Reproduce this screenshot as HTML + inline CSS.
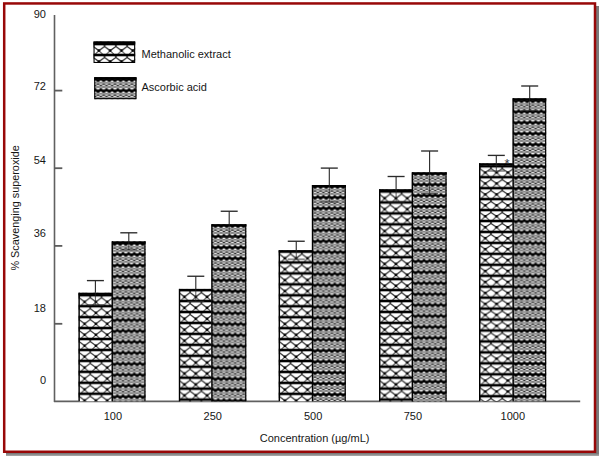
<!DOCTYPE html>
<html><head><meta charset="utf-8"><style>
html,body{margin:0;padding:0;background:#fff;width:600px;height:456px;overflow:hidden}
svg{display:block}
text{font-family:"Liberation Sans", sans-serif;font-size:11px;fill:#161616}
</style></head><body>
<svg width="600" height="456" viewBox="0 0 600 456">
<defs><pattern id="m0" patternUnits="userSpaceOnUse" x="78.950" y="294.200" width="11.3" height="10.95"><rect width="11.3" height="10.95" fill="#fff"/><path d="M-1.000 2.748 L5.650 7.750 L12.300 2.748" stroke="#333" stroke-width="1.3" fill="none"/><path d="M5.650 7.750 L9.050 11.150 M5.650 7.750 L2.250 11.150" stroke="#555" stroke-width="1.15" fill="none"/><rect y="-0.30000000000000004" width="11.3" height="2.6" fill="#000"/><rect y="10.649999999999999" width="11.3" height="2.6" fill="#000"/><path d="M-1.3 2.1999999999999997 L0 3.7 L1.3 2.1999999999999997 Z M10.0 2.1999999999999997 L11.3 3.7 L12.600000000000001 2.1999999999999997 Z" fill="#000"/><circle cx="5.650" cy="7.750" r="1.3" fill="#000"/></pattern><pattern id="a0" patternUnits="userSpaceOnUse" x="111.700" y="242.950" width="5.650" height="10.95"><rect width="5.650" height="10.95" fill="#a0a0a0"/><ellipse cx="0.000" cy="2.45" rx="1.6" ry="0.78" fill="#f2f2f2"/><ellipse cx="5.650" cy="2.45" rx="1.6" ry="0.78" fill="#f2f2f2"/><ellipse cx="2.825" cy="2.45" rx="1.6" ry="0.78" fill="#4a4a4a"/><ellipse cx="0.000" cy="3.75" rx="1.6" ry="0.78" fill="#7a7a7a"/><ellipse cx="5.650" cy="3.75" rx="1.6" ry="0.78" fill="#7a7a7a"/><ellipse cx="2.825" cy="3.75" rx="1.6" ry="0.78" fill="#a4a4a4"/><ellipse cx="0.000" cy="5.3" rx="1.6" ry="0.78" fill="#d8d8d8"/><ellipse cx="5.650" cy="5.3" rx="1.6" ry="0.78" fill="#d8d8d8"/><ellipse cx="2.825" cy="5.3" rx="1.6" ry="0.78" fill="#2e2e2e"/><ellipse cx="0.000" cy="6.5" rx="1.6" ry="0.78" fill="#2e2e2e"/><ellipse cx="5.650" cy="6.5" rx="1.6" ry="0.78" fill="#2e2e2e"/><ellipse cx="2.825" cy="6.5" rx="1.6" ry="0.78" fill="#e4e4e4"/><ellipse cx="0.000" cy="8.0" rx="1.6" ry="0.78" fill="#acacac"/><ellipse cx="5.650" cy="8.0" rx="1.6" ry="0.78" fill="#acacac"/><ellipse cx="2.825" cy="8.0" rx="1.6" ry="0.78" fill="#686868"/><ellipse cx="0.000" cy="9.4" rx="1.6" ry="0.78" fill="#4a4a4a"/><ellipse cx="5.650" cy="9.4" rx="1.6" ry="0.78" fill="#4a4a4a"/><ellipse cx="2.825" cy="9.4" rx="1.6" ry="0.78" fill="#f2f2f2"/><path d="M-0.20 -1.24 L0.30 -1.22 L0.81 -1.08 L1.31 -0.85 L1.82 -0.60 L2.32 -0.42 L2.83 -0.35 L3.33 -0.42 L3.83 -0.60 L4.34 -0.85 L4.84 -1.08 L5.35 -1.22 L5.85 -1.24 L5.85 1.26 L5.35 1.28 L4.84 1.42 L4.34 1.65 L3.83 1.90 L3.33 2.08 L2.83 2.15 L2.32 2.08 L1.82 1.90 L1.31 1.65 L0.81 1.42 L0.30 1.28 L-0.20 1.26 Z" fill="#000"/><path d="M-0.20 9.71 L0.30 9.73 L0.81 9.87 L1.31 10.10 L1.82 10.35 L2.32 10.53 L2.83 10.60 L3.33 10.53 L3.83 10.35 L4.34 10.10 L4.84 9.87 L5.35 9.73 L5.85 9.71 L5.85 12.21 L5.35 12.23 L4.84 12.37 L4.34 12.60 L3.83 12.85 L3.33 13.03 L2.83 13.10 L2.32 13.03 L1.82 12.85 L1.31 12.60 L0.81 12.37 L0.30 12.23 L-0.20 12.21 Z" fill="#000"/></pattern><pattern id="m1" patternUnits="userSpaceOnUse" x="178.800" y="289.100" width="11.3" height="10.95"><rect width="11.3" height="10.95" fill="#fff"/><path d="M-1.000 2.730 L5.650 7.850 L12.300 2.730" stroke="#333" stroke-width="1.3" fill="none"/><path d="M5.650 7.850 L8.950 11.150 M5.650 7.850 L2.350 11.150" stroke="#555" stroke-width="1.15" fill="none"/><rect y="-0.30000000000000004" width="11.3" height="2.6" fill="#000"/><rect y="10.649999999999999" width="11.3" height="2.6" fill="#000"/><path d="M-1.3 2.1999999999999997 L0 3.7 L1.3 2.1999999999999997 Z M10.0 2.1999999999999997 L11.3 3.7 L12.600000000000001 2.1999999999999997 Z" fill="#000"/><circle cx="5.650" cy="7.850" r="1.3" fill="#000"/></pattern><pattern id="a1" patternUnits="userSpaceOnUse" x="212.600" y="225.050" width="5.650" height="10.95"><rect width="5.650" height="10.95" fill="#a0a0a0"/><ellipse cx="0.000" cy="2.45" rx="1.6" ry="0.78" fill="#f2f2f2"/><ellipse cx="5.650" cy="2.45" rx="1.6" ry="0.78" fill="#f2f2f2"/><ellipse cx="2.825" cy="2.45" rx="1.6" ry="0.78" fill="#4a4a4a"/><ellipse cx="0.000" cy="3.75" rx="1.6" ry="0.78" fill="#7a7a7a"/><ellipse cx="5.650" cy="3.75" rx="1.6" ry="0.78" fill="#7a7a7a"/><ellipse cx="2.825" cy="3.75" rx="1.6" ry="0.78" fill="#a4a4a4"/><ellipse cx="0.000" cy="5.3" rx="1.6" ry="0.78" fill="#d8d8d8"/><ellipse cx="5.650" cy="5.3" rx="1.6" ry="0.78" fill="#d8d8d8"/><ellipse cx="2.825" cy="5.3" rx="1.6" ry="0.78" fill="#2e2e2e"/><ellipse cx="0.000" cy="6.5" rx="1.6" ry="0.78" fill="#2e2e2e"/><ellipse cx="5.650" cy="6.5" rx="1.6" ry="0.78" fill="#2e2e2e"/><ellipse cx="2.825" cy="6.5" rx="1.6" ry="0.78" fill="#e4e4e4"/><ellipse cx="0.000" cy="8.0" rx="1.6" ry="0.78" fill="#acacac"/><ellipse cx="5.650" cy="8.0" rx="1.6" ry="0.78" fill="#acacac"/><ellipse cx="2.825" cy="8.0" rx="1.6" ry="0.78" fill="#686868"/><ellipse cx="0.000" cy="9.4" rx="1.6" ry="0.78" fill="#4a4a4a"/><ellipse cx="5.650" cy="9.4" rx="1.6" ry="0.78" fill="#4a4a4a"/><ellipse cx="2.825" cy="9.4" rx="1.6" ry="0.78" fill="#f2f2f2"/><path d="M-0.20 -1.24 L0.30 -1.22 L0.81 -1.08 L1.31 -0.85 L1.82 -0.60 L2.32 -0.42 L2.83 -0.35 L3.33 -0.42 L3.83 -0.60 L4.34 -0.85 L4.84 -1.08 L5.35 -1.22 L5.85 -1.24 L5.85 1.26 L5.35 1.28 L4.84 1.42 L4.34 1.65 L3.83 1.90 L3.33 2.08 L2.83 2.15 L2.32 2.08 L1.82 1.90 L1.31 1.65 L0.81 1.42 L0.30 1.28 L-0.20 1.26 Z" fill="#000"/><path d="M-0.20 9.71 L0.30 9.73 L0.81 9.87 L1.31 10.10 L1.82 10.35 L2.32 10.53 L2.83 10.60 L3.33 10.53 L3.83 10.35 L4.34 10.10 L4.84 9.87 L5.35 9.73 L5.85 9.71 L5.85 12.21 L5.35 12.23 L4.84 12.37 L4.34 12.60 L3.83 12.85 L3.33 13.03 L2.83 13.10 L2.32 13.03 L1.82 12.85 L1.31 12.60 L0.81 12.37 L0.30 12.23 L-0.20 12.21 Z" fill="#000"/></pattern><pattern id="m2" patternUnits="userSpaceOnUse" x="279.250" y="250.500" width="11.3" height="10.95"><rect width="11.3" height="10.95" fill="#fff"/><path d="M-1.000 2.739 L5.650 7.800 L12.300 2.739" stroke="#333" stroke-width="1.3" fill="none"/><path d="M5.650 7.800 L9.000 11.150 M5.650 7.800 L2.300 11.150" stroke="#555" stroke-width="1.15" fill="none"/><rect y="-0.30000000000000004" width="11.3" height="2.6" fill="#000"/><rect y="10.649999999999999" width="11.3" height="2.6" fill="#000"/><path d="M-1.3 2.1999999999999997 L0 3.7 L1.3 2.1999999999999997 Z M10.0 2.1999999999999997 L11.3 3.7 L12.600000000000001 2.1999999999999997 Z" fill="#000"/><circle cx="5.650" cy="7.800" r="1.3" fill="#000"/></pattern><pattern id="a2" patternUnits="userSpaceOnUse" x="312.130" y="185.950" width="5.650" height="10.95"><rect width="5.650" height="10.95" fill="#a0a0a0"/><ellipse cx="0.000" cy="2.45" rx="1.6" ry="0.78" fill="#f2f2f2"/><ellipse cx="5.650" cy="2.45" rx="1.6" ry="0.78" fill="#f2f2f2"/><ellipse cx="2.825" cy="2.45" rx="1.6" ry="0.78" fill="#4a4a4a"/><ellipse cx="0.000" cy="3.75" rx="1.6" ry="0.78" fill="#7a7a7a"/><ellipse cx="5.650" cy="3.75" rx="1.6" ry="0.78" fill="#7a7a7a"/><ellipse cx="2.825" cy="3.75" rx="1.6" ry="0.78" fill="#a4a4a4"/><ellipse cx="0.000" cy="5.3" rx="1.6" ry="0.78" fill="#d8d8d8"/><ellipse cx="5.650" cy="5.3" rx="1.6" ry="0.78" fill="#d8d8d8"/><ellipse cx="2.825" cy="5.3" rx="1.6" ry="0.78" fill="#2e2e2e"/><ellipse cx="0.000" cy="6.5" rx="1.6" ry="0.78" fill="#2e2e2e"/><ellipse cx="5.650" cy="6.5" rx="1.6" ry="0.78" fill="#2e2e2e"/><ellipse cx="2.825" cy="6.5" rx="1.6" ry="0.78" fill="#e4e4e4"/><ellipse cx="0.000" cy="8.0" rx="1.6" ry="0.78" fill="#acacac"/><ellipse cx="5.650" cy="8.0" rx="1.6" ry="0.78" fill="#acacac"/><ellipse cx="2.825" cy="8.0" rx="1.6" ry="0.78" fill="#686868"/><ellipse cx="0.000" cy="9.4" rx="1.6" ry="0.78" fill="#4a4a4a"/><ellipse cx="5.650" cy="9.4" rx="1.6" ry="0.78" fill="#4a4a4a"/><ellipse cx="2.825" cy="9.4" rx="1.6" ry="0.78" fill="#f2f2f2"/><path d="M-0.20 -1.24 L0.30 -1.22 L0.81 -1.08 L1.31 -0.85 L1.82 -0.60 L2.32 -0.42 L2.83 -0.35 L3.33 -0.42 L3.83 -0.60 L4.34 -0.85 L4.84 -1.08 L5.35 -1.22 L5.85 -1.24 L5.85 1.26 L5.35 1.28 L4.84 1.42 L4.34 1.65 L3.83 1.90 L3.33 2.08 L2.83 2.15 L2.32 2.08 L1.82 1.90 L1.31 1.65 L0.81 1.42 L0.30 1.28 L-0.20 1.26 Z" fill="#000"/><path d="M-0.20 9.71 L0.30 9.73 L0.81 9.87 L1.31 10.10 L1.82 10.35 L2.32 10.53 L2.83 10.60 L3.33 10.53 L3.83 10.35 L4.34 10.10 L4.84 9.87 L5.35 9.73 L5.85 9.71 L5.85 12.21 L5.35 12.23 L4.84 12.37 L4.34 12.60 L3.83 12.85 L3.33 13.03 L2.83 13.10 L2.32 13.03 L1.82 12.85 L1.31 12.60 L0.81 12.37 L0.30 12.23 L-0.20 12.21 Z" fill="#000"/></pattern><pattern id="m3" patternUnits="userSpaceOnUse" x="379.000" y="190.500" width="11.3" height="10.95"><rect width="11.3" height="10.95" fill="#fff"/><path d="M-1.000 2.739 L5.650 7.800 L12.300 2.739" stroke="#333" stroke-width="1.3" fill="none"/><path d="M5.650 7.800 L9.000 11.150 M5.650 7.800 L2.300 11.150" stroke="#555" stroke-width="1.15" fill="none"/><rect y="-0.30000000000000004" width="11.3" height="2.6" fill="#000"/><rect y="10.649999999999999" width="11.3" height="2.6" fill="#000"/><path d="M-1.3 2.1999999999999997 L0 3.7 L1.3 2.1999999999999997 Z M10.0 2.1999999999999997 L11.3 3.7 L12.600000000000001 2.1999999999999997 Z" fill="#000"/><circle cx="5.650" cy="7.800" r="1.3" fill="#000"/></pattern><pattern id="a3" patternUnits="userSpaceOnUse" x="412.700" y="173.150" width="5.650" height="10.95"><rect width="5.650" height="10.95" fill="#a0a0a0"/><ellipse cx="0.000" cy="2.45" rx="1.6" ry="0.78" fill="#f2f2f2"/><ellipse cx="5.650" cy="2.45" rx="1.6" ry="0.78" fill="#f2f2f2"/><ellipse cx="2.825" cy="2.45" rx="1.6" ry="0.78" fill="#4a4a4a"/><ellipse cx="0.000" cy="3.75" rx="1.6" ry="0.78" fill="#7a7a7a"/><ellipse cx="5.650" cy="3.75" rx="1.6" ry="0.78" fill="#7a7a7a"/><ellipse cx="2.825" cy="3.75" rx="1.6" ry="0.78" fill="#a4a4a4"/><ellipse cx="0.000" cy="5.3" rx="1.6" ry="0.78" fill="#d8d8d8"/><ellipse cx="5.650" cy="5.3" rx="1.6" ry="0.78" fill="#d8d8d8"/><ellipse cx="2.825" cy="5.3" rx="1.6" ry="0.78" fill="#2e2e2e"/><ellipse cx="0.000" cy="6.5" rx="1.6" ry="0.78" fill="#2e2e2e"/><ellipse cx="5.650" cy="6.5" rx="1.6" ry="0.78" fill="#2e2e2e"/><ellipse cx="2.825" cy="6.5" rx="1.6" ry="0.78" fill="#e4e4e4"/><ellipse cx="0.000" cy="8.0" rx="1.6" ry="0.78" fill="#acacac"/><ellipse cx="5.650" cy="8.0" rx="1.6" ry="0.78" fill="#acacac"/><ellipse cx="2.825" cy="8.0" rx="1.6" ry="0.78" fill="#686868"/><ellipse cx="0.000" cy="9.4" rx="1.6" ry="0.78" fill="#4a4a4a"/><ellipse cx="5.650" cy="9.4" rx="1.6" ry="0.78" fill="#4a4a4a"/><ellipse cx="2.825" cy="9.4" rx="1.6" ry="0.78" fill="#f2f2f2"/><path d="M-0.20 -1.24 L0.30 -1.22 L0.81 -1.08 L1.31 -0.85 L1.82 -0.60 L2.32 -0.42 L2.83 -0.35 L3.33 -0.42 L3.83 -0.60 L4.34 -0.85 L4.84 -1.08 L5.35 -1.22 L5.85 -1.24 L5.85 1.26 L5.35 1.28 L4.84 1.42 L4.34 1.65 L3.83 1.90 L3.33 2.08 L2.83 2.15 L2.32 2.08 L1.82 1.90 L1.31 1.65 L0.81 1.42 L0.30 1.28 L-0.20 1.26 Z" fill="#000"/><path d="M-0.20 9.71 L0.30 9.73 L0.81 9.87 L1.31 10.10 L1.82 10.35 L2.32 10.53 L2.83 10.60 L3.33 10.53 L3.83 10.35 L4.34 10.10 L4.84 9.87 L5.35 9.73 L5.85 9.71 L5.85 12.21 L5.35 12.23 L4.84 12.37 L4.34 12.60 L3.83 12.85 L3.33 13.03 L2.83 13.10 L2.32 13.03 L1.82 12.85 L1.31 12.60 L0.81 12.37 L0.30 12.23 L-0.20 12.21 Z" fill="#000"/></pattern><pattern id="m4" patternUnits="userSpaceOnUse" x="479.650" y="165.250" width="11.3" height="10.95"><rect width="11.3" height="10.95" fill="#fff"/><path d="M-1.000 2.845 L5.650 7.200 L12.300 2.845" stroke="#333" stroke-width="1.3" fill="none"/><path d="M5.650 7.200 L9.600 11.150 M5.650 7.200 L1.700 11.150" stroke="#555" stroke-width="1.15" fill="none"/><rect y="-0.30000000000000004" width="11.3" height="2.6" fill="#000"/><rect y="10.649999999999999" width="11.3" height="2.6" fill="#000"/><path d="M-1.3 2.1999999999999997 L0 3.7 L1.3 2.1999999999999997 Z M10.0 2.1999999999999997 L11.3 3.7 L12.600000000000001 2.1999999999999997 Z" fill="#000"/><circle cx="5.650" cy="7.200" r="1.3" fill="#000"/></pattern><pattern id="a4" patternUnits="userSpaceOnUse" x="513.030" y="100.250" width="5.650" height="10.95"><rect width="5.650" height="10.95" fill="#a0a0a0"/><ellipse cx="0.000" cy="2.45" rx="1.6" ry="0.78" fill="#f2f2f2"/><ellipse cx="5.650" cy="2.45" rx="1.6" ry="0.78" fill="#f2f2f2"/><ellipse cx="2.825" cy="2.45" rx="1.6" ry="0.78" fill="#4a4a4a"/><ellipse cx="0.000" cy="3.75" rx="1.6" ry="0.78" fill="#7a7a7a"/><ellipse cx="5.650" cy="3.75" rx="1.6" ry="0.78" fill="#7a7a7a"/><ellipse cx="2.825" cy="3.75" rx="1.6" ry="0.78" fill="#a4a4a4"/><ellipse cx="0.000" cy="5.3" rx="1.6" ry="0.78" fill="#d8d8d8"/><ellipse cx="5.650" cy="5.3" rx="1.6" ry="0.78" fill="#d8d8d8"/><ellipse cx="2.825" cy="5.3" rx="1.6" ry="0.78" fill="#2e2e2e"/><ellipse cx="0.000" cy="6.5" rx="1.6" ry="0.78" fill="#2e2e2e"/><ellipse cx="5.650" cy="6.5" rx="1.6" ry="0.78" fill="#2e2e2e"/><ellipse cx="2.825" cy="6.5" rx="1.6" ry="0.78" fill="#e4e4e4"/><ellipse cx="0.000" cy="8.0" rx="1.6" ry="0.78" fill="#acacac"/><ellipse cx="5.650" cy="8.0" rx="1.6" ry="0.78" fill="#acacac"/><ellipse cx="2.825" cy="8.0" rx="1.6" ry="0.78" fill="#686868"/><ellipse cx="0.000" cy="9.4" rx="1.6" ry="0.78" fill="#4a4a4a"/><ellipse cx="5.650" cy="9.4" rx="1.6" ry="0.78" fill="#4a4a4a"/><ellipse cx="2.825" cy="9.4" rx="1.6" ry="0.78" fill="#f2f2f2"/><path d="M-0.20 -1.24 L0.30 -1.22 L0.81 -1.08 L1.31 -0.85 L1.82 -0.60 L2.32 -0.42 L2.83 -0.35 L3.33 -0.42 L3.83 -0.60 L4.34 -0.85 L4.84 -1.08 L5.35 -1.22 L5.85 -1.24 L5.85 1.26 L5.35 1.28 L4.84 1.42 L4.34 1.65 L3.83 1.90 L3.33 2.08 L2.83 2.15 L2.32 2.08 L1.82 1.90 L1.31 1.65 L0.81 1.42 L0.30 1.28 L-0.20 1.26 Z" fill="#000"/><path d="M-0.20 9.71 L0.30 9.73 L0.81 9.87 L1.31 10.10 L1.82 10.35 L2.32 10.53 L2.83 10.60 L3.33 10.53 L3.83 10.35 L4.34 10.10 L4.84 9.87 L5.35 9.73 L5.85 9.71 L5.85 12.21 L5.35 12.23 L4.84 12.37 L4.34 12.60 L3.83 12.85 L3.33 13.03 L2.83 13.10 L2.32 13.03 L1.82 12.85 L1.31 12.60 L0.81 12.37 L0.30 12.23 L-0.20 12.21 Z" fill="#000"/></pattern><pattern id="lm" patternUnits="userSpaceOnUse" x="93.250" y="43.050" width="11.3" height="10.95"><rect width="11.3" height="10.95" fill="#fff"/><path d="M-1.000 2.783 L5.650 7.550 L12.300 2.783" stroke="#333" stroke-width="1.3" fill="none"/><path d="M5.650 7.550 L9.250 11.150 M5.650 7.550 L2.050 11.150" stroke="#555" stroke-width="1.15" fill="none"/><rect y="-0.30000000000000004" width="11.3" height="2.6" fill="#000"/><rect y="10.649999999999999" width="11.3" height="2.6" fill="#000"/><path d="M-1.3 2.1999999999999997 L0 3.7 L1.3 2.1999999999999997 Z M10.0 2.1999999999999997 L11.3 3.7 L12.600000000000001 2.1999999999999997 Z" fill="#000"/><circle cx="5.650" cy="7.550" r="1.3" fill="#000"/></pattern><pattern id="la" patternUnits="userSpaceOnUse" x="95.200" y="79.150" width="5.650" height="10.95"><rect width="5.650" height="10.95" fill="#a0a0a0"/><ellipse cx="0.000" cy="2.45" rx="1.6" ry="0.78" fill="#f2f2f2"/><ellipse cx="5.650" cy="2.45" rx="1.6" ry="0.78" fill="#f2f2f2"/><ellipse cx="2.825" cy="2.45" rx="1.6" ry="0.78" fill="#4a4a4a"/><ellipse cx="0.000" cy="3.75" rx="1.6" ry="0.78" fill="#7a7a7a"/><ellipse cx="5.650" cy="3.75" rx="1.6" ry="0.78" fill="#7a7a7a"/><ellipse cx="2.825" cy="3.75" rx="1.6" ry="0.78" fill="#a4a4a4"/><ellipse cx="0.000" cy="5.3" rx="1.6" ry="0.78" fill="#d8d8d8"/><ellipse cx="5.650" cy="5.3" rx="1.6" ry="0.78" fill="#d8d8d8"/><ellipse cx="2.825" cy="5.3" rx="1.6" ry="0.78" fill="#2e2e2e"/><ellipse cx="0.000" cy="6.5" rx="1.6" ry="0.78" fill="#2e2e2e"/><ellipse cx="5.650" cy="6.5" rx="1.6" ry="0.78" fill="#2e2e2e"/><ellipse cx="2.825" cy="6.5" rx="1.6" ry="0.78" fill="#e4e4e4"/><ellipse cx="0.000" cy="8.0" rx="1.6" ry="0.78" fill="#acacac"/><ellipse cx="5.650" cy="8.0" rx="1.6" ry="0.78" fill="#acacac"/><ellipse cx="2.825" cy="8.0" rx="1.6" ry="0.78" fill="#686868"/><ellipse cx="0.000" cy="9.4" rx="1.6" ry="0.78" fill="#4a4a4a"/><ellipse cx="5.650" cy="9.4" rx="1.6" ry="0.78" fill="#4a4a4a"/><ellipse cx="2.825" cy="9.4" rx="1.6" ry="0.78" fill="#f2f2f2"/><path d="M-0.20 -1.24 L0.30 -1.22 L0.81 -1.08 L1.31 -0.85 L1.82 -0.60 L2.32 -0.42 L2.83 -0.35 L3.33 -0.42 L3.83 -0.60 L4.34 -0.85 L4.84 -1.08 L5.35 -1.22 L5.85 -1.24 L5.85 1.26 L5.35 1.28 L4.84 1.42 L4.34 1.65 L3.83 1.90 L3.33 2.08 L2.83 2.15 L2.32 2.08 L1.82 1.90 L1.31 1.65 L0.81 1.42 L0.30 1.28 L-0.20 1.26 Z" fill="#000"/><path d="M-0.20 9.71 L0.30 9.73 L0.81 9.87 L1.31 10.10 L1.82 10.35 L2.32 10.53 L2.83 10.60 L3.33 10.53 L3.83 10.35 L4.34 10.10 L4.84 9.87 L5.35 9.73 L5.85 9.71 L5.85 12.21 L5.35 12.23 L4.84 12.37 L4.34 12.60 L3.83 12.85 L3.33 13.03 L2.83 13.10 L2.32 13.03 L1.82 12.85 L1.31 12.60 L0.81 12.37 L0.30 12.23 L-0.20 12.21 Z" fill="#000"/></pattern></defs>
<rect x="6" y="6" width="593" height="450" fill="#7a7a7a"/><rect x="6" y="454" width="593" height="1" fill="#8e8e8e"/><rect x="6" y="455" width="593" height="1" fill="#a2a2a2"/>
<rect x="4.2" y="3.45" width="590.8" height="448.3" fill="#fff" stroke="#980808" stroke-width="2.5"/>
<line x1="54.5" y1="15" x2="54.5" y2="402" stroke="#606060" stroke-width="1.6"/>
<line x1="54" y1="401.35" x2="580.2" y2="401.35" stroke="#606060" stroke-width="1.7"/>
<line x1="54" y1="90.6" x2="62.3" y2="90.6" stroke="#5c5c5c" stroke-width="1.8"/><line x1="54" y1="168.2" x2="62.3" y2="168.2" stroke="#5c5c5c" stroke-width="1.8"/><line x1="54" y1="245.9" x2="62.3" y2="245.9" stroke="#5c5c5c" stroke-width="1.8"/><line x1="54" y1="323.8" x2="62.3" y2="323.8" stroke="#5c5c5c" stroke-width="1.8"/>
<rect x="78.60" y="292.70" width="33.40" height="108.60" fill="url(#m0)"/><rect x="78.60" y="292.70" width="33.40" height="2.2" fill="#000"/><rect x="78.40" y="292.70" width="1.45" height="108.60" fill="#000"/><rect x="112.00" y="241.30" width="33.50" height="160.00" fill="url(#a0)"/><rect x="112.00" y="241.30" width="33.50" height="2.2" fill="#000"/><rect x="111.50" y="241.30" width="1.45" height="160.00" fill="#000"/><rect x="144.35" y="241.30" width="1.15" height="160.00" fill="#000"/><rect x="179.00" y="288.90" width="32.70" height="112.40" fill="url(#m1)"/><rect x="179.00" y="288.90" width="32.70" height="2.2" fill="#000"/><rect x="178.80" y="288.90" width="1.45" height="112.40" fill="#000"/><rect x="211.70" y="224.20" width="34.60" height="177.10" fill="url(#a1)"/><rect x="211.70" y="224.20" width="34.60" height="2.2" fill="#000"/><rect x="211.20" y="224.20" width="1.45" height="177.10" fill="#000"/><rect x="245.15" y="224.20" width="1.15" height="177.10" fill="#000"/><rect x="278.80" y="250.20" width="33.50" height="151.10" fill="url(#m2)"/><rect x="278.80" y="250.20" width="33.50" height="2.2" fill="#000"/><rect x="278.60" y="250.20" width="1.45" height="151.10" fill="#000"/><rect x="312.30" y="185.00" width="33.50" height="216.30" fill="url(#a2)"/><rect x="312.30" y="185.00" width="33.50" height="2.2" fill="#000"/><rect x="311.80" y="185.00" width="1.45" height="216.30" fill="#000"/><rect x="344.65" y="185.00" width="1.15" height="216.30" fill="#000"/><rect x="379.20" y="189.20" width="32.90" height="212.10" fill="url(#m3)"/><rect x="379.20" y="189.20" width="32.90" height="2.2" fill="#000"/><rect x="379.00" y="189.20" width="1.45" height="212.10" fill="#000"/><rect x="412.10" y="172.30" width="34.50" height="229.00" fill="url(#a3)"/><rect x="412.10" y="172.30" width="34.50" height="2.2" fill="#000"/><rect x="411.60" y="172.30" width="1.45" height="229.00" fill="#000"/><rect x="445.45" y="172.30" width="1.15" height="229.00" fill="#000"/><rect x="479.20" y="163.20" width="33.70" height="238.10" fill="url(#m4)"/><rect x="479.20" y="163.20" width="33.70" height="2.2" fill="#000"/><rect x="479.00" y="163.20" width="1.45" height="238.10" fill="#000"/><rect x="512.90" y="98.20" width="33.30" height="303.10" fill="url(#a4)"/><rect x="512.90" y="98.20" width="33.30" height="2.2" fill="#000"/><rect x="512.40" y="98.20" width="1.45" height="303.10" fill="#000"/><rect x="545.05" y="98.20" width="1.15" height="303.10" fill="#000"/>
<line x1="95.40" y1="280.60" x2="95.40" y2="292.70" stroke="#262626" stroke-width="1.1"/><line x1="86.90" y1="280.60" x2="103.90" y2="280.60" stroke="#2a2a2a" stroke-width="1.35"/><line x1="95.40" y1="292.70" x2="95.40" y2="304.80" stroke="#222" stroke-width="1" opacity="0.75"/><line x1="86.90" y1="304.80" x2="103.90" y2="304.80" stroke="#333" stroke-width="1.2" opacity="0.75"/><line x1="128.80" y1="232.80" x2="128.80" y2="241.30" stroke="#262626" stroke-width="1.1"/><line x1="120.30" y1="232.80" x2="137.30" y2="232.80" stroke="#2a2a2a" stroke-width="1.35"/><line x1="128.80" y1="241.30" x2="128.80" y2="249.80" stroke="#222" stroke-width="1" opacity="0.75"/><line x1="120.30" y1="249.80" x2="137.30" y2="249.80" stroke="#333" stroke-width="1.2" opacity="0.75"/><line x1="195.80" y1="276.25" x2="195.80" y2="288.90" stroke="#262626" stroke-width="1.1"/><line x1="187.30" y1="276.25" x2="204.30" y2="276.25" stroke="#2a2a2a" stroke-width="1.35"/><line x1="195.80" y1="288.90" x2="195.80" y2="301.55" stroke="#222" stroke-width="1" opacity="0.75"/><line x1="187.30" y1="301.55" x2="204.30" y2="301.55" stroke="#333" stroke-width="1.2" opacity="0.75"/><line x1="229.20" y1="211.25" x2="229.20" y2="224.20" stroke="#262626" stroke-width="1.1"/><line x1="220.70" y1="211.25" x2="237.70" y2="211.25" stroke="#2a2a2a" stroke-width="1.35"/><line x1="229.20" y1="224.20" x2="229.20" y2="237.15" stroke="#222" stroke-width="1" opacity="0.75"/><line x1="220.70" y1="237.15" x2="237.70" y2="237.15" stroke="#333" stroke-width="1.2" opacity="0.75"/><line x1="296.25" y1="241.25" x2="296.25" y2="250.20" stroke="#262626" stroke-width="1.1"/><line x1="287.75" y1="241.25" x2="304.75" y2="241.25" stroke="#2a2a2a" stroke-width="1.35"/><line x1="296.25" y1="250.20" x2="296.25" y2="259.15" stroke="#222" stroke-width="1" opacity="0.75"/><line x1="287.75" y1="259.15" x2="304.75" y2="259.15" stroke="#333" stroke-width="1.2" opacity="0.75"/><line x1="329.30" y1="168.10" x2="329.30" y2="185.00" stroke="#262626" stroke-width="1.1"/><line x1="320.80" y1="168.10" x2="337.80" y2="168.10" stroke="#2a2a2a" stroke-width="1.35"/><line x1="329.30" y1="185.00" x2="329.30" y2="201.90" stroke="#222" stroke-width="1" opacity="0.75"/><line x1="320.80" y1="201.90" x2="337.80" y2="201.90" stroke="#333" stroke-width="1.2" opacity="0.75"/><line x1="396.10" y1="176.50" x2="396.10" y2="189.20" stroke="#262626" stroke-width="1.1"/><line x1="387.60" y1="176.50" x2="404.60" y2="176.50" stroke="#2a2a2a" stroke-width="1.35"/><line x1="396.10" y1="189.20" x2="396.10" y2="201.90" stroke="#222" stroke-width="1" opacity="0.75"/><line x1="387.60" y1="201.90" x2="404.60" y2="201.90" stroke="#333" stroke-width="1.2" opacity="0.75"/><line x1="429.60" y1="151.00" x2="429.60" y2="172.30" stroke="#262626" stroke-width="1.1"/><line x1="421.10" y1="151.00" x2="438.10" y2="151.00" stroke="#2a2a2a" stroke-width="1.35"/><line x1="429.60" y1="172.30" x2="429.60" y2="193.60" stroke="#222" stroke-width="1" opacity="0.75"/><line x1="421.10" y1="193.60" x2="438.10" y2="193.60" stroke="#333" stroke-width="1.2" opacity="0.75"/><line x1="496.30" y1="155.40" x2="496.30" y2="163.20" stroke="#262626" stroke-width="1.1"/><line x1="487.80" y1="155.40" x2="504.80" y2="155.40" stroke="#2a2a2a" stroke-width="1.35"/><line x1="496.30" y1="163.20" x2="496.30" y2="171.00" stroke="#222" stroke-width="1" opacity="0.75"/><line x1="487.80" y1="171.00" x2="504.80" y2="171.00" stroke="#333" stroke-width="1.2" opacity="0.75"/><line x1="529.70" y1="86.00" x2="529.70" y2="98.20" stroke="#262626" stroke-width="1.1"/><line x1="521.20" y1="86.00" x2="538.20" y2="86.00" stroke="#2a2a2a" stroke-width="1.35"/><line x1="529.70" y1="98.20" x2="529.70" y2="110.40" stroke="#222" stroke-width="1" opacity="0.75"/><line x1="521.20" y1="110.40" x2="538.20" y2="110.40" stroke="#333" stroke-width="1.2" opacity="0.75"/>
<text x="504.6" y="168.2" style="font-size:13px;fill:#34363c">*</text>
<rect x="93.5" y="41.5" width="41.7" height="21.5" fill="url(#lm)"/>
<rect x="93.5" y="41.5" width="41.7" height="2.2" fill="#000"/>
<rect x="94.05" y="42.05" width="40.6" height="20.4" fill="none" stroke="#000" stroke-width="1.1"/>
<rect x="94.2" y="77.2" width="42.3" height="22" fill="url(#la)"/>
<rect x="94.2" y="77.2" width="42.3" height="2.2" fill="#000"/>
<rect x="94.75" y="77.75" width="41.2" height="20.9" fill="none" stroke="#000" stroke-width="1.1"/>
<text x="141.5" y="57.7">Methanolic extract</text>
<text x="141.5" y="90.9">Ascorbic acid</text>
<text x="46" y="18.2" text-anchor="end">90</text><text x="46" y="90.2" text-anchor="end">72</text><text x="46" y="163.6" text-anchor="end">54</text><text x="46" y="236.7" text-anchor="end">36</text><text x="46" y="311.7" text-anchor="end">18</text><text x="46" y="384.0" text-anchor="end">0</text>
<text x="112.85" y="420.3" text-anchor="middle">100</text><text x="212.70" y="420.3" text-anchor="middle">250</text><text x="313.10" y="420.3" text-anchor="middle">500</text><text x="412.85" y="420.3" text-anchor="middle">750</text><text x="512.80" y="420.3" text-anchor="middle">1000</text>
<text x="259.8" y="442.2">Concentration (µg/mL)</text>
<text transform="translate(19.2 270.6) rotate(-90)" x="0" y="0" style="font-size:10.85px">% Scavenging superoxide</text>
</svg>
</body></html>
